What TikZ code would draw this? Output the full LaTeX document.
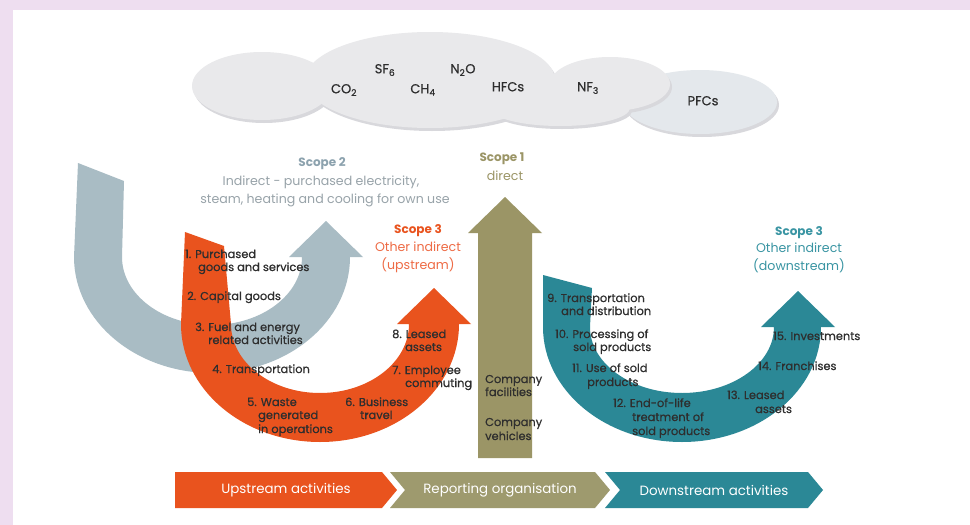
\documentclass[tikz,border=0pt]{standalone}
\usepackage{fontspec}
\setmainfont{Poppins}
\newfontfamily\medfont{Poppins}[FakeBold=0.6]
\usetikzlibrary{math}

\definecolor{bgpink}{HTML}{EEDEF0}
\definecolor{scopetwo}{HTML}{A9BCC4}
\definecolor{scopetwohead}{HTML}{8CA2AE}
\definecolor{scopetwotext}{HTML}{98A3A9}
\definecolor{upstream}{HTML}{E9531E}
\definecolor{upstreamtext}{HTML}{EE6B45}
\definecolor{reporting}{HTML}{9B9566}
\definecolor{reportbar}{HTML}{9E9A6E}
\definecolor{downstream}{HTML}{2B8896}
\definecolor{downstreamtext}{HTML}{3A95A3}
\definecolor{cloudgray}{HTML}{E9E9EB}
\definecolor{cloudblue}{HTML}{E4E8EC}
\definecolor{cloudshade}{HTML}{D8D8DC}
\definecolor{labelgray}{HTML}{2E2E2E}

\begin{document}
\begin{tikzpicture}[x=1pt, y=1pt, yscale=-1,
  lbl/.style={anchor=west, inner sep=0pt, text=labelgray, font=\medfont\fontsize{11.4}{13}\selectfont, text height=1.4ex, text depth=0.3ex},
  gas/.style={inner sep=0pt, text=labelgray, font=\medfont\fontsize{13}{15}\selectfont, text height=1.5ex, text depth=0.3ex},
  head/.style={inner sep=0pt, font=\fontsize{12}{14}\selectfont\bfseries, text height=1.5ex, text depth=0.3ex},
  sub/.style={inner sep=0pt, font=\fontsize{12.6}{14}\selectfont, text height=1.5ex, text depth=0.3ex},
  bar/.style={inner sep=0pt, text=white, font=\fontsize{13.4}{15}\selectfont}]

\tikzmath{
\hw = 37;
\hh = 36;
}

% frame
\fill[bgpink] (0,0) rectangle (970,525);
\fill[white] (13,10) rectangle (970,525);

% cloud
\fill[cloudshade] (702,105) ellipse [x radius=77, y radius=32];
\fill[cloudblue] (700,102) ellipse [x radius=77, y radius=32];
\foreach \cx/\cy/\rx/\ry in {262/86/70/34, 430/80/125/48, 560/108/70/18, 610/84/60/27}
  \fill[cloudshade] (\cx+2,\cy+3) ellipse [x radius=\rx, y radius=\ry];
\foreach \cx/\cy/\rx/\ry in {262/86/70/34, 430/80/125/48, 560/108/70/18, 610/84/60/27}
  \fill[cloudgray] (\cx,\cy) ellipse [x radius=\rx, y radius=\ry];

\node[gas] (co2) at (344,90) {CO\textsubscript{2}};
\node[gas] (sf6) at (385,70) {SF\textsubscript{6}};
\node[gas] (ch4) at (423,90) {CH\textsubscript{4}};
\node[gas] (n2o) at (463,70) {N\textsubscript{2}O};
\node[gas] (hfcs) at (508,88) {HFCs};
\node[gas] (nf3) at (588,88) {NF\textsubscript{3}};
\node[gas] (pfcs) at (703,102) {PFCs};

% scope 2 arrow
\fill[scopetwo] (78,163) -- (74,257) arc[start angle=180, end angle=0, x radius=138, y radius=116]
  -- (326+\hw,257) -- (326,257-\hh) -- (326-\hw,257) -- (302,257)
  arc[start angle=0, end angle=180, x radius=90, y radius=68] -- (124,181) -- cycle;

% scope 3 upstream arrow
\fill[upstream] (185,232) -- (181,324) arc[start angle=180, end angle=0, x radius=139, y radius=118]
  -- (434+\hw,324) -- (434,324-\hh) -- (434-\hw,324) -- (409,324)
  arc[start angle=0, end angle=180, x radius=89, y radius=69] -- (224,246) -- cycle;

% scope 3 downstream arrow
\fill[downstream] (543,275) -- (543,327) arc[start angle=180, end angle=0, x radius=139, y radius=115]
  -- (798+\hw,327) -- (798,327-\hh) -- (798-\hw,327) -- (774,327)
  arc[start angle=0, end angle=180, x radius=92, y radius=66] -- (592,288) -- cycle;

% scope 1 arrow
\fill[reporting] (478,458) -- (478,233) -- (505-\hw,233) -- (505,233-\hh) -- (505+\hw,233) -- (532,233) -- (532,458) -- cycle;

% headings
\node[head, text=scopetwohead] (s2) at (322,163) {Scope 2};
\node[sub, text=scopetwotext] (s2a) at (321,182) {Indirect - purchased electricity,};
\node[sub, text=scopetwotext] (s2b) at (325,200) {steam, heating and cooling for own use};
\node[head, text=reporting] (s1) at (502,158) {Scope 1};
\node[sub, text=reporting] (s1a) at (505,177) {direct};
\node[head, text=upstream] (s3u) at (418,230) {Scope 3};
\node[sub, text=upstreamtext] (s3ua) at (418,248) {Other indirect};
\node[sub, text=upstreamtext] (s3ub) at (418,266) {(upstream)};
\node[head, text=downstreamtext] (s3d) at (799,232) {Scope 3};
\node[sub, text=downstreamtext] (s3da) at (799,249) {Other indirect};
\node[sub, text=downstreamtext] (s3db) at (799,267) {(downstream)};

% upstream categories
\foreach \x/\y/\txt [count=\i] in {185/255/{1. Purchased}, 198/268/{goods and services},
    187/297/{2. Capital goods}, 195/328/{3. Fuel and energy}, 208/341/{related activities},
    212/370/{4. Transportation}, 247/403/{5. Waste}, 258/416/{generated}, 258/430/{in operations},
    345/403/{6. Business}, 360/416/{travel}, 392/371/{7. Employee}, 405/384/{commuting},
    392/335/{8. Leased}, 405/348/{assets}}
  \node[lbl] (up\i) at (\x,\y) {\txt};

% reporting organisation
\foreach \y/\txt [count=\i] in {380/Company, 393/facilities, 423/Company, 437/vehicles}
  \node[lbl] (org\i) at (485,\y) {\txt};

% downstream categories
\foreach \x/\y/\txt [count=\i] in {547/299/{9. Transportation}, 561/312/{and distribution},
    555/335/{10. Processing of}, 573/348/{sold products}, 572/369/{11. Use of sold}, 587/383/{products},
    613/404/{12. End-of-life}, 632/418/{treatment of}, 632/432/{sold products},
    727/396/{13. Leased}, 755/410/{assets}, 758/367/{14. Franchises}, 773/337/{15. Investments}}
  \node[lbl] (down\i) at (\x,\y) {\txt};

% value chain bar
\foreach \xa/\xb/\dn/\col/\txt [count=\i] in {175/382/0/upstream/{Upstream activities},
    390/595/15/reportbar/{Reporting organisation}, 605/808/15/downstream/{Downstream activities}}
{
  \fill[\col] (\xa,472) -- (\xb,472) -- (\xb+15,490) -- (\xb,508) -- (\xa,508) -- (\xa+\dn,490) -- cycle;
  \node[bar] (bar\i) at ({(\xa+\xb+15)/2},490) {\txt};
}

\end{tikzpicture}
\end{document}
